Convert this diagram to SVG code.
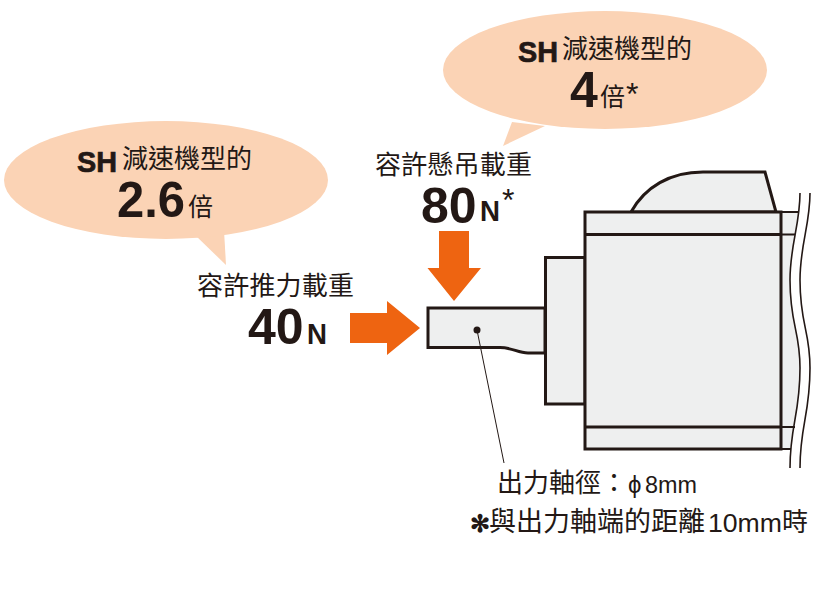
<svg xmlns="http://www.w3.org/2000/svg" width="838" height="590" viewBox="0 0 838 590">
<defs><clipPath id="c"><rect x="781" y="212" width="40" height="237"/></clipPath></defs>
<style>
.b{fill:#fbd3b5}
.m{fill:#eeefef;stroke:#231815;stroke-width:3;stroke-linejoin:miter}
.l{fill:none;stroke:#231815;stroke-width:3}
.w{fill:none;stroke:#231815;stroke-width:1.6}
.a{fill:#ee6411}
text{fill:#231815;font-family:"Noto Sans CJK TC","Noto Sans CJK JP",sans-serif}
.n{font-family:"Liberation Sans",Arial,sans-serif;font-weight:bold}
.s{font-family:"Liberation Sans",Arial,sans-serif;font-weight:bold;stroke:#231815;stroke-width:.7}
.r{font-family:"Liberation Sans",Arial,sans-serif}
</style>
<rect width="838" height="590" fill="#fff"/>
<g id="motor">
<path d="M631 212C645 187 670 172 703 172H765L776 212Z" class="m"/>
<path clip-path="url(#c)" d="M770 193H800C800 225 790 245 790 280C790 325 800 330 800 368C800 415 790 425 790 468H770Z" fill="#eeefef"/>
<rect x="545.500" y="257.500" width="39.500" height="146.500" class="m"/>
<rect x="585" y="212" width="196" height="237" class="m"/>
<path d="M585 234.500H781M585 427H781" class="l"/>
<path d="M781 212H798M781 234.500H795M781 427H795M781 449H791" fill="none" stroke="#231815" stroke-width="2"/>
<path d="M800 193C800 225 790 245 790 280C790 325 800 330 800 368C800 415 790 425 790 468" class="w"/>
<path d="M810 193C810 225 800 245 800 280C800 325 810 330 810 368C810 415 800 425 800 468" class="w"/>
</g>
<g id="shaft">
<path d="M545 308H428V347.500H500C512 347.500 518 353 528 353H545Z" class="m"/>
<circle cx="477" cy="330" r="3.500" fill="#231815"/>
</g>
<g id="connectors">
<path d="M477 330L504 463" fill="none" stroke="#231815" stroke-width="1"/>
<path class="a" d="M439 231H469V268H481L454 301L427.500 268H439Z"/>
<path class="a" d="M350 313H387V301L420 328L387 355V343H350Z"/>
</g>
<g id="bubble-thrust">
<path class="b" d="M195 235L226 265L224 230Z"/>
<ellipse class="b" cx="166" cy="180" rx="162" ry="59"/>
<text class="s" x="77" y="172" font-size="30" textLength="40" lengthAdjust="spacingAndGlyphs">SH</text>
<text x="122" y="168" font-size="26">減速機型的</text>
<text class="n" x="117" y="217" font-size="50" textLength="68" lengthAdjust="spacingAndGlyphs">2.6</text>
<text x="188" y="216" font-size="25">倍</text>
</g>
<g id="bubble-radial">
<path class="b" d="M512 122L503 146L545 126Z"/>
<ellipse class="b" cx="605" cy="70" rx="162" ry="59"/>
<text class="s" x="518" y="62" font-size="30" textLength="40" lengthAdjust="spacingAndGlyphs">SH</text>
<text x="562" y="58" font-size="26">減速機型的</text>
<text class="n" x="570" y="107" font-size="50">4</text>
<text x="600" y="106" font-size="25">倍</text>
<text class="r" x="626" y="105" font-size="32">*</text>
</g>
<g id="label-radial">
<text x="375" y="174" font-size="26" textLength="157">容許懸吊載重</text>
<text class="n" x="421" y="223" font-size="50">80</text>
<text class="n" x="480" y="221" font-size="29" textLength="20" lengthAdjust="spacingAndGlyphs">N</text>
<text class="r" x="502" y="211" font-size="32">*</text>
</g>
<g id="label-thrust">
<text x="197" y="295" font-size="26" textLength="157">容許推力載重</text>
<text class="n" x="248" y="344" font-size="50">40</text>
<text class="n" x="307" y="344" font-size="29" textLength="20" lengthAdjust="spacingAndGlyphs">N</text>
</g>
<g id="notes">
<text x="497" y="492" font-size="26">出力軸徑</text>
<text x="601" y="492" font-size="26">：</text>
<text class="r" x="628" y="493" font-size="24">ϕ</text>
<text class="r" x="645" y="493" font-size="24" textLength="52" lengthAdjust="spacingAndGlyphs">8mm</text>
<text x="470" y="532" font-size="24" font-weight="bold">✻</text>
<text x="489" y="531" font-size="27">與出力軸端的距離</text>
<text class="r" x="708" y="532" font-size="26" textLength="74" lengthAdjust="spacingAndGlyphs">10mm</text>
<text x="782" y="531" font-size="26">時</text>
</g>
</svg>
